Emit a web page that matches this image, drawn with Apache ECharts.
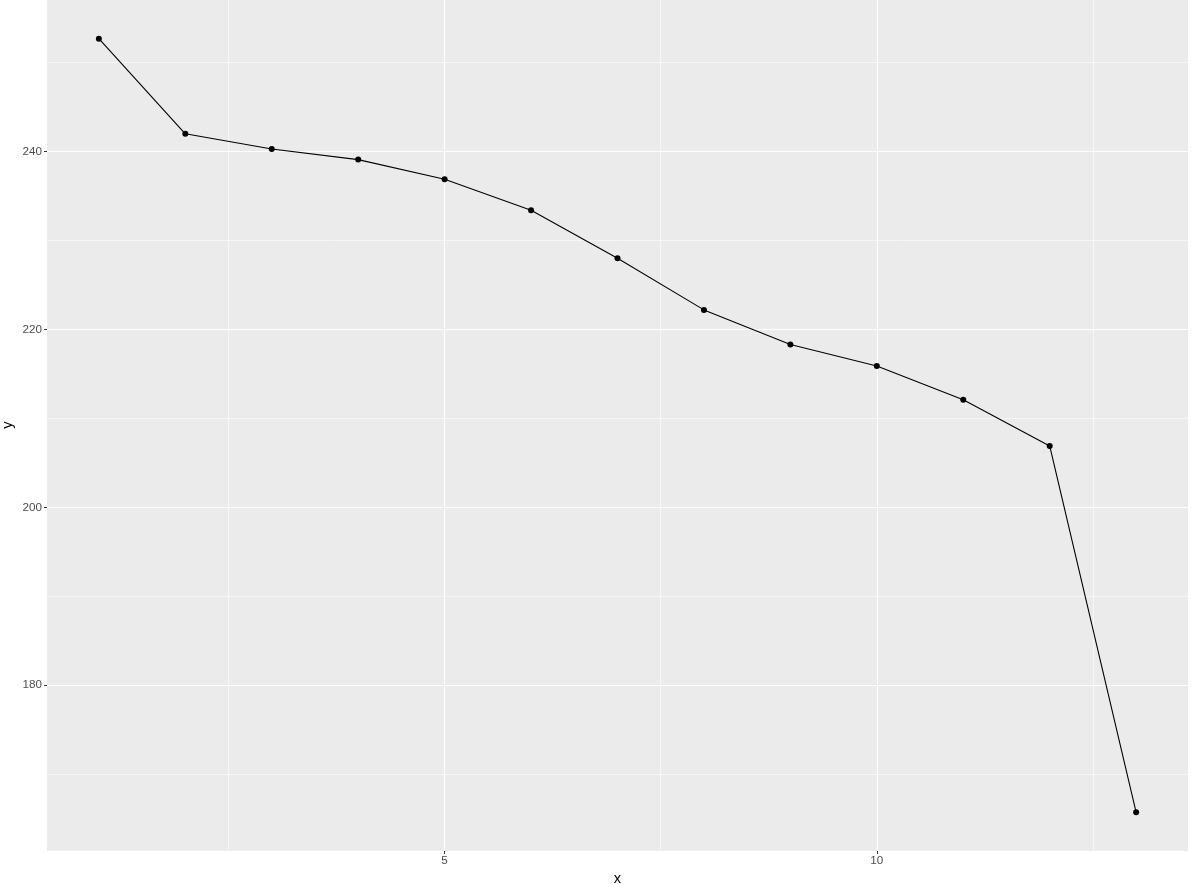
<!DOCTYPE html>
<html>
<head>
<meta charset="utf-8">
<script src="https://cdn.jsdelivr.net/npm/echarts@6/dist/echarts.min.js"></script>
<style>html,body{margin:0;padding:0;background:#fff;}#c{width:1195px;height:884px;}</style>
</head>
<body>
<div id="c"></div>
<script>
const xValues = [1, 2, 3, 4, 5, 6, 7, 8, 9, 10, 11, 12, 13];
const yValues = [252.7, 242.0, 240.3, 239.1, 236.9, 233.4, 228.0, 222.2, 218.3, 215.9, 212.1, 206.9, 165.7];
const xTicks = [5, 10];
const xMinorTicks = [2.5, 7.5, 12.5];
const yTicks = [180, 200, 220, 240];
const yMinorTicks = [170, 190, 210, 230, 250];

const xMin = 0.4, xMax = 13.6;
const yMin = 161.35, yMax = 257.05;

const chart = echarts.init(document.getElementById('c'), null, {renderer: 'canvas'});
const font = 'Liberation Sans, Arial, sans-serif';

function vLines(vals, w) {
  return vals.map(v => ({xAxis: v, lineStyle: {color: '#FFFFFF', width: w, type: 'solid'}}));
}
function hLines(vals, w) {
  return vals.map(v => ({yAxis: v, lineStyle: {color: '#FFFFFF', width: w, type: 'solid'}}));
}

chart.setOption({
  animation: false,
  backgroundColor: '#FFFFFF',
  grid: {left: 47, top: 0, width: 1141, height: 851, show: true, backgroundColor: '#EBEBEB', borderWidth: 0, containLabel: false, outerBoundsMode: 'none'},
  graphic: [{
    type: 'text', x: 8, y: 425, rotation: Math.PI / 2,
    style: {text: 'y', fill: '#000000', font: '14.6px ' + font, align: 'center', verticalAlign: 'middle'}
  }],
  xAxis: {
    type: 'value', min: xMin, max: xMax,
    name: 'x', nameLocation: 'middle', nameGap: 20,
    nameTextStyle: {color: '#000000', fontSize: 14.6, fontFamily: font},
    axisLine: {show: false},
    splitLine: {show: false},
    axisTick: {show: true, customValues: xTicks, length: 3, lineStyle: {color: '#333333', width: 1}},
    axisLabel: {customValues: xTicks, color: '#4D4D4D', fontSize: 11.7, fontFamily: font, margin: 4}
  },
  yAxis: {
    type: 'value', min: yMin, max: yMax,
    axisLine: {show: false},
    splitLine: {show: false},
    axisTick: {show: true, customValues: yTicks, length: 3, lineStyle: {color: '#333333', width: 1}},
    axisLabel: {customValues: yTicks, color: '#4D4D4D', fontSize: 11.7, fontFamily: font, margin: 5}
  },
  series: [
    {
      type: 'line', data: [], silent: true,
      markLine: {
        silent: true, symbol: 'none', label: {show: false}, animation: false,
        data: [].concat(vLines(xMinorTicks, 0.55), hLines(yMinorTicks, 0.55), vLines(xTicks, 1.1), hLines(yTicks, 1.1))
      }
    },
    {
      type: 'line',
      data: xValues.map((x, i) => [x, yValues[i]]),
      symbol: 'circle', symbolSize: 6, showSymbol: true,
      itemStyle: {color: '#000000'},
      lineStyle: {color: '#000000', width: 1.1},
      z: 5
    }
  ]
});
</script>
</body>
</html>
